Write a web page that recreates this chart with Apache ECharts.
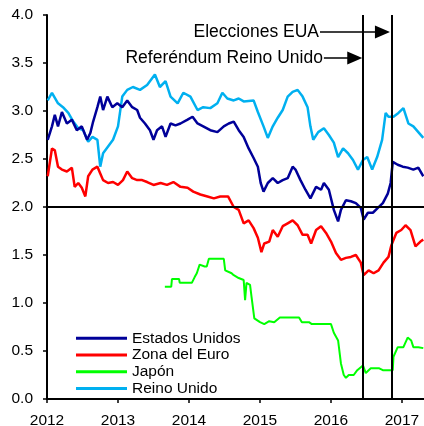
<!DOCTYPE html>
<html>
<head>
<meta charset="utf-8">
<script src="https://cdn.jsdelivr.net/npm/echarts@6/dist/echarts.min.js"></script>
<style>
  html, body { margin: 0; padding: 0; background: #fff; }
  #chart { width: 424px; height: 426px; }
</style>
</head>
<body>
<div id="chart"></div>
<script>
// rendimientos de bonos a 10 años (%), [año decimal, valor]
const estadosUnidos = [
    [2012.01, 2.70], [2012.07, 2.84], [2012.11, 2.96], [2012.155, 2.84], [2012.21, 2.99], [2012.28, 2.87],
    [2012.35, 2.91], [2012.42, 2.80], [2012.49, 2.84], [2012.565, 2.70], [2012.61, 2.77], [2012.65, 2.89],
    [2012.71, 3.04], [2012.75, 3.15], [2012.79, 3.01], [2012.85, 3.15], [2012.92, 3.04], [2012.99, 3.08],
    [2013.06, 3.04], [2013.13, 3.11], [2013.20, 3.04], [2013.27, 3.01], [2013.31, 2.93], [2013.38, 2.87],
    [2013.45, 2.80], [2013.50, 2.70], [2013.55, 2.80], [2013.62, 2.84], [2013.67, 2.73], [2013.74, 2.87],
    [2013.81, 2.85], [2013.88, 2.87], [2013.98, 2.91], [2014.05, 2.94], [2014.12, 2.87], [2014.20, 2.84],
    [2014.30, 2.80], [2014.40, 2.78], [2014.49, 2.84], [2014.56, 2.87], [2014.63, 2.89], [2014.70, 2.80],
    [2014.77, 2.73], [2014.84, 2.61], [2014.91, 2.51], [2014.97, 2.42], [2015.01, 2.25], [2015.05, 2.16],
    [2015.11, 2.25], [2015.18, 2.30], [2015.25, 2.25], [2015.32, 2.28], [2015.39, 2.30], [2015.46, 2.42],
    [2015.50, 2.39], [2015.57, 2.28], [2015.64, 2.18], [2015.71, 2.09], [2015.79, 2.21], [2015.86, 2.18],
    [2015.90, 2.25], [2015.97, 2.18], [2016.04, 1.97], [2016.10, 1.85], [2016.14, 1.97], [2016.21, 2.07],
    [2016.28, 2.06], [2016.35, 2.04], [2016.42, 1.99], [2016.46, 1.87], [2016.52, 1.94], [2016.59, 1.94],
    [2016.66, 1.99], [2016.73, 2.04], [2016.80, 2.14], [2016.84, 2.25], [2016.87, 2.47], [2016.94, 2.44],
    [2017.01, 2.42], [2017.08, 2.41], [2017.16, 2.39], [2017.23, 2.41], [2017.30, 2.32]
];

const zonaEuro = [
    [2012.01, 2.32], [2012.07, 2.61], [2012.11, 2.59], [2012.155, 2.42], [2012.21, 2.39], [2012.28, 2.37],
    [2012.35, 2.41], [2012.39, 2.21], [2012.44, 2.25], [2012.49, 2.20], [2012.54, 2.11], [2012.58, 2.32],
    [2012.64, 2.39], [2012.71, 2.42], [2012.75, 2.35], [2012.79, 2.28], [2012.86, 2.25], [2012.93, 2.26],
    [2013.00, 2.23], [2013.07, 2.28], [2013.13, 2.37], [2013.20, 2.30], [2013.27, 2.28], [2013.34, 2.28],
    [2013.41, 2.26], [2013.50, 2.23], [2013.60, 2.25], [2013.69, 2.23], [2013.78, 2.26], [2013.88, 2.21],
    [2013.98, 2.20], [2014.06, 2.16], [2014.16, 2.13], [2014.26, 2.11], [2014.35, 2.09], [2014.44, 2.11],
    [2014.55, 2.11], [2014.63, 2.00], [2014.70, 1.97], [2014.77, 1.83], [2014.84, 1.86], [2014.91, 1.78],
    [2014.97, 1.68], [2015.02, 1.53], [2015.06, 1.62], [2015.13, 1.64], [2015.18, 1.76], [2015.25, 1.69],
    [2015.32, 1.80], [2015.39, 1.83], [2015.46, 1.86], [2015.53, 1.81], [2015.60, 1.71], [2015.67, 1.71],
    [2015.72, 1.62], [2015.79, 1.76], [2015.86, 1.80], [2015.93, 1.73], [2016.00, 1.64], [2016.07, 1.52],
    [2016.14, 1.45], [2016.21, 1.47], [2016.28, 1.48], [2016.35, 1.50], [2016.42, 1.42], [2016.46, 1.29],
    [2016.53, 1.34], [2016.60, 1.31], [2016.67, 1.34], [2016.74, 1.42], [2016.81, 1.48], [2016.85, 1.60],
    [2016.92, 1.73], [2016.99, 1.76], [2017.05, 1.81], [2017.12, 1.76], [2017.19, 1.59], [2017.26, 1.64],
    [2017.30, 1.66]
];

const japon = [
    [2013.66, 1.17], [2013.75, 1.17], [2013.76, 1.25], [2013.86, 1.25], [2013.87, 1.21], [2014.04, 1.21],
    [2014.08, 1.27], [2014.11, 1.31], [2014.15, 1.40], [2014.22, 1.38], [2014.25, 1.38], [2014.28, 1.46],
    [2014.49, 1.46], [2014.51, 1.34], [2014.60, 1.31], [2014.63, 1.29], [2014.70, 1.26], [2014.77, 1.24],
    [2014.79, 1.03], [2014.81, 1.21], [2014.86, 1.19], [2014.88, 1.07], [2014.92, 0.84], [2015.00, 0.80],
    [2015.06, 0.78], [2015.13, 0.81], [2015.20, 0.80], [2015.28, 0.85], [2015.55, 0.85], [2015.59, 0.80],
    [2015.69, 0.80], [2015.73, 0.78], [2016.00, 0.78], [2016.04, 0.69], [2016.10, 0.61], [2016.14, 0.37],
    [2016.18, 0.25], [2016.21, 0.22], [2016.25, 0.25], [2016.32, 0.25], [2016.37, 0.30], [2016.45, 0.35],
    [2016.49, 0.27], [2016.56, 0.32], [2016.68, 0.32], [2016.73, 0.30], [2016.87, 0.30], [2016.88, 0.44],
    [2016.94, 0.54], [2017.02, 0.54], [2017.08, 0.64], [2017.13, 0.61], [2017.16, 0.54], [2017.23, 0.54],
    [2017.30, 0.53]
];

const reinoUnido = [
    [2012.01, 3.11], [2012.07, 3.19], [2012.155, 3.08], [2012.225, 3.04], [2012.30, 2.98], [2012.37, 2.89],
    [2012.44, 2.82], [2012.51, 2.80], [2012.58, 2.68], [2012.64, 2.73], [2012.71, 2.70], [2012.75, 2.42],
    [2012.79, 2.56], [2012.86, 2.63], [2012.93, 2.70], [2013.00, 2.84], [2013.06, 3.15], [2013.13, 3.22],
    [2013.21, 3.25], [2013.31, 3.22], [2013.41, 3.27], [2013.52, 3.38], [2013.59, 3.25], [2013.67, 3.31],
    [2013.74, 3.15], [2013.84, 3.08], [2013.92, 3.19], [2014.02, 3.15], [2014.12, 3.01], [2014.20, 3.04],
    [2014.30, 3.03], [2014.40, 3.08], [2014.47, 3.19], [2014.54, 3.13], [2014.63, 3.11], [2014.70, 3.13],
    [2014.77, 3.10], [2014.91, 3.11], [2014.97, 2.99], [2015.05, 2.84], [2015.11, 2.72], [2015.18, 2.84],
    [2015.25, 2.93], [2015.32, 3.01], [2015.39, 3.15], [2015.46, 3.20], [2015.53, 3.22], [2015.60, 3.15],
    [2015.67, 3.04], [2015.71, 2.84], [2015.75, 2.70], [2015.82, 2.78], [2015.90, 2.82], [2015.97, 2.75],
    [2016.04, 2.67], [2016.10, 2.52], [2016.17, 2.61], [2016.24, 2.56], [2016.31, 2.49], [2016.38, 2.39],
    [2016.45, 2.49], [2016.51, 2.52], [2016.58, 2.39], [2016.65, 2.52], [2016.72, 2.70], [2016.77, 2.98],
    [2016.81, 2.94], [2016.88, 2.94], [2016.95, 2.98], [2017.02, 3.03], [2017.09, 2.87], [2017.16, 2.84],
    [2017.23, 2.78], [2017.30, 2.72]
];

const yTicks = [0, 0.5, 1, 1.5, 2, 2.5, 3, 3.5, 4];
const referendum = 2016.455;
const elecciones = 2016.845;
const nivelReferencia = 2.0;

const chartDom = document.getElementById('chart');
const myChart = echarts.init(chartDom);

const fuente = 'Liberation Sans, Arial, sans-serif';

const option = {
    animation: false,
    backgroundColor: '#fff',
    grid: {
        left: 47,
        right: 0,
        top: 15,
        bottom: 27,
        containLabel: false,
        outerBoundsMode: 'none'
    },
    legend: {
        orient: 'vertical',
        left: 71,
        top: 325,
        itemWidth: 51,
        itemHeight: 3,
        itemGap: 0,
        icon: 'rect',
        textStyle: {
            fontFamily: fuente,
            fontSize: 15.5,
            color: '#000',
            lineHeight: 16.7
        },
        data: ['Estados Unidos', 'Zona del Euro', 'Japón', 'Reino Unido']
    },
    xAxis: {
        type: 'value',
        min: 2012,
        max: 2017.31,
        interval: 1,
        axisLine: { lineStyle: { color: '#000', width: 2 } },
        axisTick: { length: 4, lineStyle: { color: '#000', width: 1.5 } },
        axisLabel: {
            color: '#000',
            fontFamily: fuente,
            fontSize: 15.5,
            margin: 14,
            showMaxLabel: false,
            formatter: v => (Math.abs(v - Math.round(v)) < 1e-6 ? String(Math.round(v)) : '')
        },
        splitLine: { show: false }
    },
    yAxis: {
        type: 'value',
        min: yTicks[0],
        max: yTicks[yTicks.length - 1],
        interval: 0.5,
        axisLine: { show: true, lineStyle: { color: '#000', width: 2 } },
        axisTick: { show: true, length: 4, lineStyle: { color: '#000', width: 1.5 } },
        axisLabel: {
            color: '#000',
            fontFamily: fuente,
            fontSize: 15.5,
            margin: 14,
            formatter: v => v.toFixed(1)
        },
        splitLine: { show: false }
    },
    series: [
        {
            name: 'Reino Unido',
            type: 'line',
            data: reinoUnido,
            symbol: 'none',
            lineStyle: { color: '#00B0F0', width: 2.5 },
            itemStyle: { color: '#00B0F0' }
        },
        {
            name: 'Estados Unidos',
            type: 'line',
            data: estadosUnidos,
            symbol: 'none',
            lineStyle: { color: '#000099', width: 2.5 },
            itemStyle: { color: '#000099' }
        },
        {
            name: 'Zona del Euro',
            type: 'line',
            data: zonaEuro,
            symbol: 'none',
            lineStyle: { color: '#FF0000', width: 2.5 },
            itemStyle: { color: '#FF0000' }
        },
        {
            name: 'Japón',
            type: 'line',
            data: japon,
            symbol: 'none',
            lineStyle: { color: '#00FF00', width: 2 },
            itemStyle: { color: '#00FF00' },
            markLine: {
                silent: true,
                symbol: 'none',
                label: { show: false },
                lineStyle: { color: '#000', width: 2, type: 'solid' },
                data: [
                    { yAxis: nivelReferencia },
                    { xAxis: referendum },
                    { xAxis: elecciones }
                ]
            }
        },
        {
            name: 'anotaciones',
            type: 'line',
            data: [],
            markLine: {
                silent: true,
                symbol: ['none', 'triangle'],
                symbolSize: [13, 15],
                lineStyle: { color: '#000', width: 1.5, type: 'solid' },
                label: {
                    show: true,
                    position: 'start',
                    distance: 1,
                    color: '#000',
                    fontFamily: fuente,
                    fontSize: 17.5
                },
                data: [
                    [
                        { coord: [2015.845, 3.823], name: 'Elecciones EUA', label: { formatter: 'Elecciones EUA' } },
                        { coord: [elecciones - 0.12, 3.823] }
                    ],
                    [
                        { coord: [2015.90, 3.552], name: 'Referéndum Reino Unido', label: { formatter: 'Referéndum Reino Unido' } },
                        { coord: [referendum - 0.12, 3.552] }
                    ]
                ]
            }
        }
    ]
};

myChart.setOption(option);

window.addEventListener('resize', () => {
    myChart.resize();
});
</script>
</body>
</html>
